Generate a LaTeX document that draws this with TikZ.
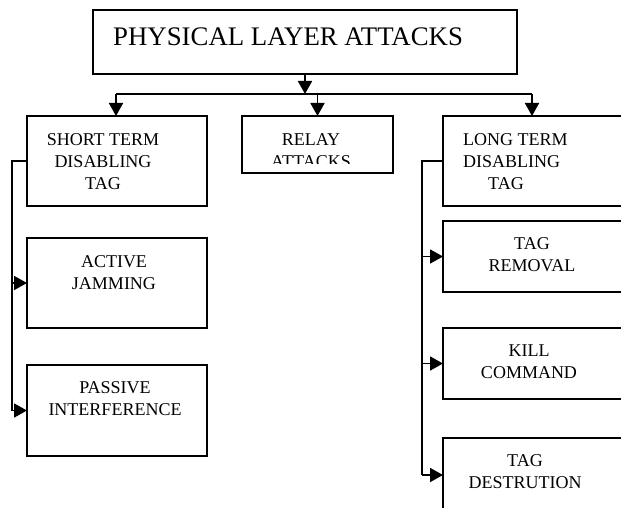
\documentclass[tikz,border=0pt]{standalone}
\usepackage{fontspec}
\setmainfont{Liberation Serif}
\usetikzlibrary{arrows.meta}
\tikzset{
  box/.style={draw, line width=1.8pt, inner sep=0pt, outer sep=0pt},
  lbl/.style={anchor=north, inner sep=0pt, align=center,
    font=\fontsize{18}{22}\selectfont},
  link/.style={line width=1.8pt},
  arr/.style={link, -{Triangle[length=13pt,width=14pt]}},
}
\begin{document}
\begin{tikzpicture}[x=1pt,y=-1pt]
  \useasboundingbox (0,0) rectangle (621,508);
  \clip (0,0) rectangle (621,508);

  % top box
  \node[box, minimum width=424pt, minimum height=64pt] (title) at (305,42) {};
  \node[anchor=base west, inner sep=0pt, font=\fontsize{26.8}{30}\selectfont]
    (titletext) at (113,46) {PHYSICAL LAYER ATTACKS};

  % second row
  \node[box, minimum width=180pt, minimum height=90pt] (short) at (117,161) {};
  \node[lbl] (shorttext) at (103,133) {SHORT TERM\\DISABLING\\TAG};

  \node[box, minimum width=151pt, minimum height=57pt] (relay) at (317.5,144.5) {};
  \begin{scope}
    \clip (242,116) rectangle (393,163);
    \node[lbl] (relaytext) at (311,133) {RELAY\\ATTACKS};
  \end{scope}

  \node[box, minimum width=200pt, minimum height=90pt] (long) at (543,161) {};
  \node[lbl, align=left, anchor=north west] (longtext) at (463,133)
    {LONG TERM\\DISABLING\\\hspace*{25pt}TAG};

  % left branch
  \node[box, minimum width=180pt, minimum height=90pt] (active) at (117,283) {};
  \node[lbl] (activetext) at (114,255) {ACTIVE\\JAMMING};
  \node[box, minimum width=180pt, minimum height=91pt] (passive) at (117,410.5) {};
  \node[lbl] (passivetext) at (115,381) {PASSIVE\\INTERFERENCE};

  % right branch
  \node[box, minimum width=200pt, minimum height=71pt] (removal) at (543,256.5) {};
  \node[lbl] (removaltext) at (532,237) {TAG\\REMOVAL};
  \node[box, minimum width=200pt, minimum height=71pt] (kill) at (543,363.5) {};
  \node[lbl] (killtext) at (529,345) {KILL\\COMMAND};
  \node[box, minimum width=200pt, minimum height=74pt] (destr) at (543,475) {};
  \node[lbl] (destrtext) at (525,454) {TAG\\DESTRUTION};

  % distribution bus
  \coordinate (busL) at (116,94);
  \coordinate (busR) at (532,94);
  \draw[link] (busL) -- (busR);
  \draw[arr] (title.south) -- (title.south |- busL);
  \draw[arr] (busL) -- (busL |- short.north);
  \draw[arr] (relay.north |- busL) -- (relay.north);
  \draw[arr] (busR) -- (busR |- long.north);

  % left spine
  \coordinate (lsp) at (12,161);
  \draw[link] (short.west) -- (lsp) -- (lsp |- passive.west);
  \draw[arr] (lsp |- active.west) -- (active.west);
  \draw[arr] (lsp |- passive.west) -- (passive.west);

  % right spine
  \coordinate (rsp) at (422,161);
  \draw[link] (long.west) -- (rsp) -- (rsp |- destr.west);
  \draw[arr] (rsp |- removal.west) -- (removal.west);
  \draw[arr] (rsp |- kill.west) -- (kill.west);
  \draw[arr] (rsp |- destr.west) -- (destr.west);
\end{tikzpicture}
\end{document}
